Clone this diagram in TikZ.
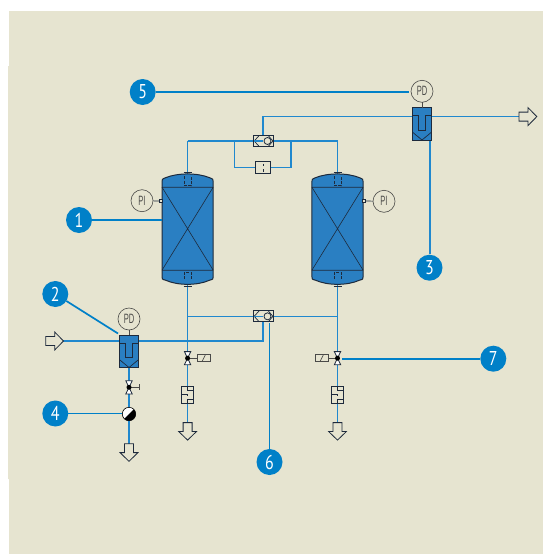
\documentclass[tikz,border=0pt]{standalone}
\usepackage{graphicx}
\usepackage{fontspec}
\setmainfont{Liberation Sans}
\newfontfamily\numfont{PT Sans}
\definecolor{paper}{HTML}{E6E4D0}
\definecolor{pipeblue}{HTML}{2088CE}
\definecolor{leadblue}{HTML}{0080C8}
\definecolor{tankblue}{HTML}{2A7FC2}
\definecolor{ink}{HTML}{1E2A3C}
\definecolor{grayink}{HTML}{4A4A48}
\tikzset{
  pipe/.style={draw=pipeblue,line width=1.5pt},
  leader/.style={draw=leadblue,line width=1.7pt},
  bubble/.style={circle,fill=leadblue,minimum size=26pt,inner sep=0pt,outer sep=0pt,text=white,
    font=\numfont\fontsize{20}{20}\selectfont},
  gauge/.style={circle,draw=grayink,fill=paper,line width=.6pt,minimum size=22pt,inner sep=0pt,outer sep=0pt,
    text=grayink,font=\fontsize{13.5}{14}\selectfont},
  symb/.style={draw=ink,line width=.8pt},
  thinsymb/.style={draw=grayink,line width=.7pt},
  pics/tank/.style={code={
    \node[minimum width=51.3pt,minimum height=114.5pt,inner sep=0pt,outer sep=0pt] (body) at (0,0) {};
    \draw[symb,line width=1pt,fill=tankblue]
      (-25.6,-44) -- (-25.6,-47.5) .. controls (-25.6,-50) .. (-22,-51.5)
      .. controls (-10,-56.5) and (10,-56.5) .. (22,-51.5)
      .. controls (25.6,-50) .. (25.6,-47.5) -- (25.6,47.5)
      .. controls (25.6,50) .. (22,51)
      .. controls (10,56.5) and (-10,56.5) .. (-22,51)
      .. controls (-25.6,50) .. (-25.6,47.5) -- cycle;
    \draw[symb,line width=.6pt] (-25.6,-42) -- (25.6,-42) (-25.6,41) -- (25.6,41)
      (-25.6,-42) -- (25.6,41) (25.6,-42) -- (-25.6,41);
    \draw[symb,line width=.6pt,dashed,dash pattern=on 3pt off 1.5pt]
      (-3.5,-53) -- (-3.5,-43.5) -- (3.5,-43.5) -- (3.5,-53)
      (-3.5,50) -- (-3.5,43) -- (3.5,43) -- (3.5,50);
    \draw[symb,line width=.9pt] (-4,-57) -- (4,-57) (-4,57) -- (4,57);
  }},
  pics/filterunit/.style={code={
    \node[draw=ink,line width=.9pt,fill=tankblue,minimum width=19.5pt,minimum height=32.5pt,inner sep=0pt,outer sep=0pt] (body) at (0,0) {};
    \draw[draw=ink,line width=.7pt] (-9.7,-8.5) -- (-3.7,-8.5) -- (-3.7,6) -- (3.7,6) -- (3.7,-8.5) -- (9.7,-8.5);
    \draw[draw=ink,line width=.7pt] (-9.7,8) -- (0,16) -- (9.7,8);
  }},
  pics/shuttle/.style={code={
    \node[symb,fill=paper,minimum width=19.5pt,minimum height=11pt,inner sep=0pt,outer sep=0pt] (body) at (0,0) {};
    \draw[symb,line width=.7pt] (-4,-5.5) -- (-9,0) -- (-4,5.5) (5,-5.5) -- (9.7,0) -- (5,5.5);
    \draw[pipeblue,line width=1.5pt] (-9.7,0) -- (0,0);
    \draw[symb,line width=.8pt,fill=paper] (4.3,0) circle[radius=3.5];
  }},
  pics/twoway/.style={code={
    \draw[symb,line width=.8pt,fill=white] (-3.2,-6.6) -- (3.2,-6.6) -- (-3.2,6.6) -- (3.2,6.6) -- cycle;
    \fill[black] (0,0) circle[radius=2.5];
  }},
  pics/silencer/.style={code={
    \node[draw=ink,line width=.8pt,fill=paper,minimum width=11.7pt,minimum height=17.4pt,inner sep=0pt,outer sep=0pt] (body) at (0,0) {};
    \draw[draw=ink,line width=.7pt] (0,-8.7) -- (0,-5) -- (5.8,-5) (-5.8,-1) -- (0,-1) -- (0,1)
      (0,8.7) -- (0,4.5) -- (5.8,4.5);
  }},
  pics/solenoid/.style={code={
    \node[thinsymb,fill=paper,minimum width=13.3pt,minimum height=7pt,inner sep=0pt,outer sep=0pt] (body) at (0,0) {};
    \draw[thinsymb] (-1.5,3) -- (1.5,-3);
  }},
  pics/arrowdown/.style={code={
    \draw[symb,fill=paper,line join=miter] (-4.5,0) -- (4.5,0) -- (4.5,8.8) -- (9,8.8) -- (0,17.5) -- (-9,8.8) -- (-4.5,8.8) -- cycle;
  }},
  pics/arrowright/.style={code={
    \draw[symb,fill=paper,line join=miter] (0,-4.5) -- (9,-4.5) -- (9,-9) -- (17.8,0) -- (9,9) -- (9,4.5) -- (0,4.5) -- cycle;
  }},
}
\begin{document}
\begin{tikzpicture}[x=1pt,y=-1pt]
\useasboundingbox (0,0) rectangle (543,554);
\fill[paper] (9,11) -- (543,11) -- (543,554) -- (9,554) -- (9,479) -- (8,479) -- (8,66) -- (9,66) -- cycle;

% routing coordinates
\coordinate (topL) at (187.6,141);
\coordinate (topR) at (337.5,141);
\coordinate (byL) at (234.3,141);
\coordinate (byR) at (291,141);
\coordinate (byLb) at (234.3,167.3);
\coordinate (byRb) at (291,167.3);
\coordinate (botL) at (187.6,316.3);
\coordinate (botR) at (337.5,316.3);
\coordinate (cross) at (263,341);
\coordinate (outT) at (263,116.5);
\coordinate (outE) at (519,116.5);
\coordinate (inW) at (63,341);
\coordinate (sv2b) at (263,316);
\coordinate (sv1m) at (263,141);

% pipes (beneath the symbols)
\path[pipe] (topL) -- (topR);
\path[pipe] (botL) -- (botR);
\path[pipe] (byL) -- (byLb) -- (byRb) -- (byR);
\path[pipe] (sv1m) -- (outT) -- (outE);
\path[pipe] (inW) -- (cross) -- (sv2b);
\path[pipe] (topL) -- (187.6,423);
\path[pipe] (topR) -- (337.5,423);
\path[pipe] (129,368) -- (129,444);
\path[pipe] (430,140) -- (430,254);

% vessels
\pic (t1) at (187.6,229.2) {tank};
\pic (t2) at (337.5,229.2) {tank};

% valves in lines
\pic (sv1) at (263.2,141) {shuttle};
\pic (sv2) at (263.2,316.3) {shuttle};
\node[symb,fill=paper,minimum width=15.4pt,minimum height=11.6pt,inner sep=0pt,outer sep=0pt] (orifice) at (263,167.5) {};
\draw[symb,line width=.7pt] (263,163.5) -- (263,166) (263,169) -- (263,171.5);

% filters
\pic (f1) at (422,124) {filterunit};
\pic (f2) at (129,351.5) {filterunit};

% gauges
\node[gauge] (pd1) at (422,91.3) {\scalebox{.56}[1]{PD}};
\node[gauge] (pd2) at (129,319) {\scalebox{.56}[1]{PD}};
\node[gauge] (pi1) at (142,200.7) {\scalebox{.56}[1]{PI}};
\node[gauge] (pi2) at (384,201.3) {\scalebox{.56}[1]{PI}};
\draw[thinsymb] (pd1) -- (f1body);
\draw[thinsymb] (pd2) -- (f2body);
\node[draw=ink,fill=paper,line width=.7pt,minimum size=3pt,inner sep=0pt,outer sep=0pt] (n1) at (160.6,201) {};
\node[draw=ink,fill=paper,line width=.7pt,minimum size=3pt,inner sep=0pt,outer sep=0pt] (n2) at (364.3,201) {};
\draw[symb,line width=.7pt] (pi1) -- (n1);
\draw[symb,line width=.7pt] (pi2) -- (n2);

% drain valves
\pic (so1) at (203.7,358.2) {solenoid};
\pic (so2) at (321.7,358.2) {solenoid};
\coordinate (v1c) at (129,387.3);
\coordinate (v2c) at (187.6,358.2);
\coordinate (v3c) at (337.5,358.2);
\coordinate (h1) at (139,387.3);
\draw[thinsymb] (v1c) -- (h1) (139,384.3) -- (139,390.3);
\draw[thinsymb] (v2c) -- (so1body);
\draw[thinsymb] (v3c) -- (so2body);
\pic (v1) at (v1c) {twoway};
\pic (v2) at (v2c) {twoway};
\pic (v3) at (v3c) {twoway};

% silencers
\pic (s1) at (187.6,395) {silencer};
\pic (s2) at (337.5,395) {silencer};

% ball
\node[circle,fill=white,draw=black,line width=.6pt,minimum size=13.4pt,inner sep=0pt,outer sep=0pt] (ball) at (129,414) {};
\fill[black] (124.3,418.7) -- (133.7,409.3) arc[start angle=-45,end angle=135,radius=6.7] -- cycle;

% outlet / inlet arrows
\pic (a1) at (129,443.8) {arrowdown};
\pic (a2) at (187.6,422.6) {arrowdown};
\pic (a3) at (337.5,422.6) {arrowdown};
\pic (a4) at (519,116.6) {arrowright};
\pic (a5) at (45.7,341) {arrowright};

% numbered callouts
\node[bubble] (b1) at (79,220) {\scalebox{.8}[1]{1}};
\node[bubble] (b2) at (55.3,294) {\scalebox{.8}[1]{2}};
\node[bubble] (b3) at (429.5,267.7) {\scalebox{.8}[1]{3}};
\node[bubble] (b4) at (55.3,413.5) {\scalebox{.8}[1]{4}};
\node[bubble] (b5) at (142.7,92) {\scalebox{.8}[1]{5}};
\node[bubble] (b6) at (269.5,462) {\scalebox{.8}[1]{6}};
\node[bubble] (b7) at (493.3,358.7) {\scalebox{.8}[1]{7}};
\coordinate (l1) at (162,220);
\coordinate (l2) at (118,333.5);
\coordinate (l4) at (122.3,413.5);
\coordinate (l5) at (409,92);
\coordinate (l6) at (269.5,322.5);
\coordinate (l7) at (342,358.7);
\path[leader] (b1) -- (l1);
\path[leader] (b2) -- (l2);
\path[leader] (b4) -- (l4);
\path[leader] (b5) -- (l5);
\path[leader] (b6) -- (l6);
\path[leader] (b7) -- (l7);
\end{tikzpicture}
\end{document}
